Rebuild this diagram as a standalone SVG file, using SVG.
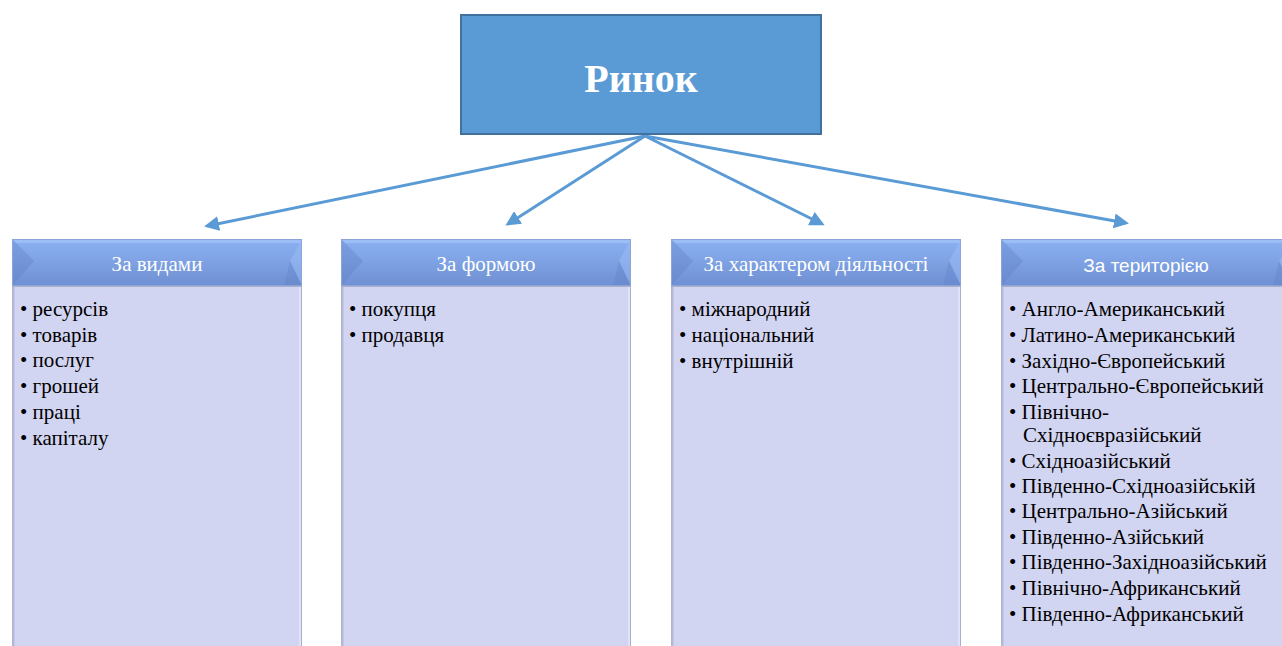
<svg xmlns="http://www.w3.org/2000/svg" width="1282" height="646" viewBox="0 0 1282 646">
<style>
.hdr{font-family:"Liberation Serif","Times New Roman",serif;font-size:21px;fill:#ffffff;text-anchor:middle}
.hdrs{font-family:"Liberation Sans","Open Sans",sans-serif;font-size:19px;fill:#ffffff;text-anchor:middle}
.item{font-family:"Liberation Serif","Times New Roman",serif;font-size:21px;fill:#000000}
.body{fill:#D2D5F2;stroke:#A9AECB;stroke-width:1}
.conn{stroke:#5B9BD5;stroke-width:3;fill:none;marker-end:url(#ah)}
</style>
<defs>
<linearGradient id="hg" x1="0" y1="0" x2="0" y2="1">
<stop offset="0" stop-color="#8CB2F3"/>
<stop offset="1" stop-color="#6F90D2"/>
</linearGradient>
<marker id="ah" viewBox="0 0 10 10" refX="8" refY="5" markerWidth="5" markerHeight="5" markerUnits="strokeWidth" orient="auto">
<path d="M0,0 L10,5 L0,10 Z" fill="#5B9BD5"/>
</marker>
<g id="hdrshape">
<rect x="0" y="0" width="290" height="47" fill="url(#hg)"/>
<polygon points="0,0 22,22 0,47" fill="#5E7FC3" opacity="0.35"/>
<polygon points="0,0 290,0 290,4 4,4" fill="#A9C6F8" opacity="0.6"/>
<polygon points="290,0 290,47 278,22" fill="#9DBDF6" opacity="0.5"/>
<polygon points="290,47 278,22 272,47" fill="#5E7FC3" opacity="0.3"/>
<rect x="0.5" y="0.5" width="289" height="46" fill="none" stroke="#8CA4D8" stroke-width="1"/>
</g>
</defs>
<rect width="1282" height="646" fill="#ffffff"/>

<g id="connectors">
<line class="conn" x1="645" y1="136" x2="207" y2="226"/>
<line class="conn" x1="645" y1="136" x2="508" y2="224"/>
<line class="conn" x1="645" y1="136" x2="822" y2="224"/>
<line class="conn" x1="645" y1="136" x2="1126" y2="223"/>
</g>

<g id="node-root">
<rect x="461" y="15" width="360" height="119" fill="#5B9BD5" stroke="#41719C" stroke-width="2"/>
<text x="641" y="92" font-family="'Liberation Serif','Times New Roman',serif" font-size="40" font-weight="bold" fill="#ffffff" text-anchor="middle">Ринок</text>
</g>

<g id="node-vydy">
<rect class="body" x="12.5" y="286.5" width="289" height="370"/>
<line x1="13.5" y1="287" x2="13.5" y2="646" stroke="#B6BAD6" stroke-width="2"/>
<line x1="300" y1="287" x2="300" y2="646" stroke="#EEF0FF" stroke-width="1"/>
<use href="#hdrshape" x="12" y="239"/>
<text class="hdr" x="157" y="271">За видами</text>
<text class="item" x="20" y="316">• ресурсів</text>
<text class="item" x="20" y="342">• товарів</text>
<text class="item" x="20" y="367">• послуг</text>
<text class="item" x="20" y="393">• грошей</text>
<text class="item" x="20" y="419">• праці</text>
<text class="item" x="20" y="445">• капіталу</text>
</g>

<g id="node-forma">
<rect class="body" x="341.5" y="286.5" width="289" height="370"/>
<line x1="342.5" y1="287" x2="342.5" y2="646" stroke="#B6BAD6" stroke-width="2"/>
<line x1="629" y1="287" x2="629" y2="646" stroke="#EEF0FF" stroke-width="1"/>
<use href="#hdrshape" x="341" y="239"/>
<text class="hdr" x="486" y="271">За формою</text>
<text class="item" x="349" y="316">• покупця</text>
<text class="item" x="349" y="342">• продавця</text>
</g>

<g id="node-kharakter">
<rect class="body" x="671.5" y="286.5" width="289" height="370"/>
<line x1="672.5" y1="287" x2="672.5" y2="646" stroke="#B6BAD6" stroke-width="2"/>
<line x1="959" y1="287" x2="959" y2="646" stroke="#EEF0FF" stroke-width="1"/>
<use href="#hdrshape" x="671" y="239"/>
<text class="hdr" x="816" y="271">За характером діяльності</text>
<text class="item" x="679" y="316">• міжнародний</text>
<text class="item" x="679" y="342">• національний</text>
<text class="item" x="679" y="368">• внутрішній</text>
</g>

<g id="node-terytoriya">
<rect class="body" x="1001.5" y="286.5" width="289" height="370"/>
<line x1="1002.5" y1="287" x2="1002.5" y2="646" stroke="#B6BAD6" stroke-width="2"/>
<use href="#hdrshape" x="1001" y="239"/>
<text class="hdrs" x="1146" y="272">За територією</text>
<text class="item" x="1009" y="316">• Англо-Американський</text>
<text class="item" x="1009" y="342">• Латино-Американський</text>
<text class="item" x="1009" y="368">• Західно-Європейський</text>
<text class="item" x="1009" y="393">• Центрально-Європейський</text>
<text class="item" x="1009" y="419">• Північно-</text>
<text class="item" x="1023" y="442">Східноєвразійський</text>
<text class="item" x="1009" y="468">• Східноазійський</text>
<text class="item" x="1009" y="493">• Південно-Східноазійській</text>
<text class="item" x="1009" y="518">• Центрально-Азійський</text>
<text class="item" x="1009" y="544">• Південно-Азійський</text>
<text class="item" x="1009" y="569">• Південно-Західноазійський</text>
<text class="item" x="1009" y="595">• Північно-Африканський</text>
<text class="item" x="1009" y="621">• Південно-Африканський</text>
</g>
</svg>
